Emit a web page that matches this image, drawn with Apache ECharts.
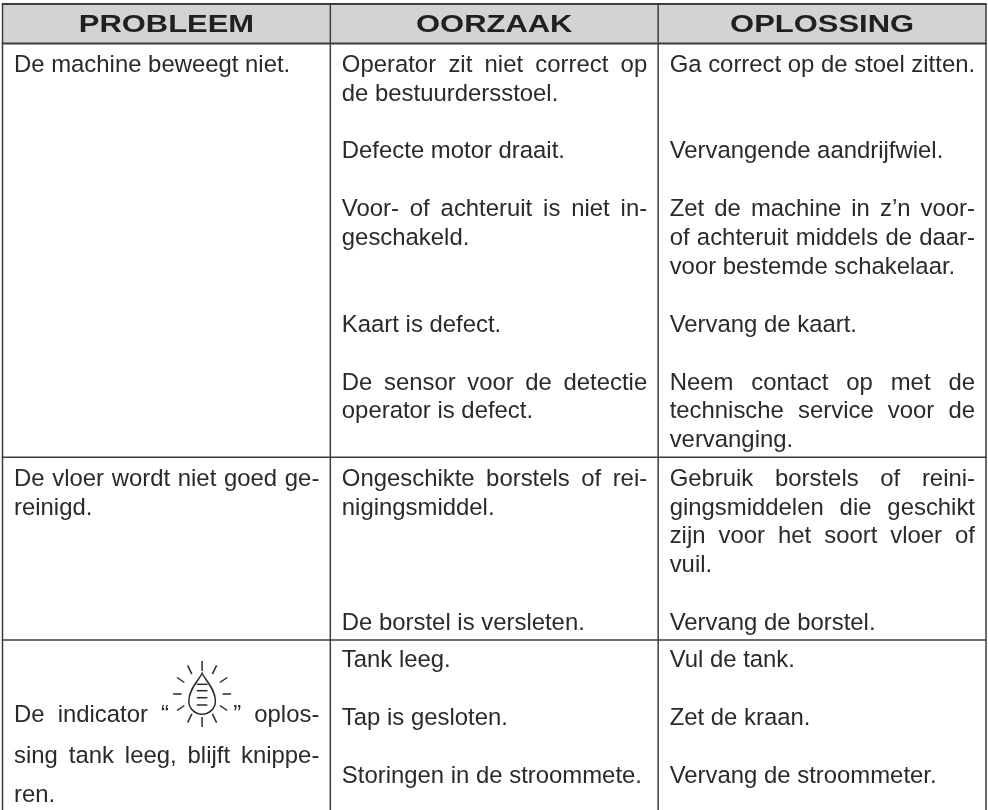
<!DOCTYPE html>
<html>
<head>
<meta charset="utf-8">
<script src="https://cdn.jsdelivr.net/npm/echarts@6/dist/echarts.min.js"></script>
<style>
  html, body { margin: 0; padding: 0; background: #fff; }
  #main { width: 988px; height: 810px; }
</style>
</head>
<body>
<div id="main"></div>
<script>
var headers = ['PROBLEEM', 'OORZAAK', 'OPLOSSING'];

// '' is an empty line in the cell, {icon} is the blinking drop symbol
var problems = [
  ['De machine beweegt niet.'],
  ['De vloer wordt niet goed ge-', 'reinigd.'],
  ['De indicator “ {icon} ” oplos-', 'sing tank leeg, blijft knippe-', 'ren.']
];
var causes = [
  ['Operator zit niet correct op', 'de bestuurdersstoel.', '', 'Defecte motor draait.', '',
   'Voor- of achteruit is niet in-', 'geschakeld.', '', '', 'Kaart is defect.', '',
   'De sensor voor de detectie', 'operator is defect.'],
  ['Ongeschikte borstels of rei-', 'nigingsmiddel.', '', '', '', 'De borstel is versleten.'],
  ['Tank leeg.', '', 'Tap is gesloten.', '', 'Storingen in de stroommete.']
];
var solutions = [
  ['Ga correct op de stoel zitten.', '', '', 'Vervangende aandrijfwiel.', '',
   'Zet de machine in z’n voor-', 'of achteruit middels de daar-', 'voor bestemde schakelaar.', '', 'Vervang de kaart.', '',
   'Neem contact op met de', 'technische service voor de', 'vervanging.'],
  ['Gebruik borstels of reini-', 'gingsmiddelen die geschikt', 'zijn voor het soort vloer of', 'vuil.', '', 'Vervang de borstel.'],
  ['Vul de tank.', '', 'Zet de kraan.', '', 'Vervang de stroommeter.']
];
var columns = [problems, causes, solutions];

// layout of the sheet
var lineColor = '#3d3d3f';
var textColor = '#2b2a2b';
var bodyFont = 23.9;
var rowLines = [4, 43.5, 457.3, 640, 810];
var rowBase = [71.7, 485.7, 667.3];
var pitch = 28.9;
var lastProblemBase = [721.7, 762.7, 801.7];
var padLeft = 11.5, padRight = 11;
var iconWidth = 38;

var ctx = document.createElement('canvas').getContext('2d');
var fontStr = bodyFont + 'px "Liberation Sans"';
ctx.font = fontStr;

// word positions for one line, justified unless it ends a paragraph
function layoutLine(line, width, justify) {
  var words = line.split(' ');
  var w = words.map(function (t) { return t === '{icon}' ? iconWidth : ctx.measureText(t).width; });
  var sum = w.reduce(function (a, b) { return a + b; }, 0);
  var gap = ctx.measureText(' ').width;
  if (justify && words.length > 1) gap = (width - sum) / (words.length - 1);
  var x = 0, out = [];
  words.forEach(function (t, i) { out.push({ text: t, x: x, w: w[i] }); x += w[i] + gap; });
  return out;
}

var cells = [];
columns.forEach(function (rows, c) {
  rows.forEach(function (lines, r) {
    lines.forEach(function (line, i) {
      if (!line) return;
      var justify = i < lines.length - 1 && lines[i + 1] !== '';
      var base = (c === 0 && r === 2) ? lastProblemBase[i] : rowBase[r] + i * pitch;
      cells.push({ value: [c, base], line: line, justify: justify });
    });
  });
});

function dropIcon(cx, cy) {
  var kids = [];
  var stroke = { stroke: textColor, lineWidth: 1.5 };
  for (var a = 0; a < 12; a++) {
    var t = a * Math.PI / 6;
    var sx = Math.sin(t), sy = -Math.cos(t);
    kids.push({ type: 'line', shape: {
      x1: cx + sx * 20.5, y1: cy + sy * 23,
      x2: cx + sx * 29, y2: cy + sy * 33
    }, style: stroke });
  }
  kids.push({ type: 'path', x: cx, y: cy, shape: {
    pathData: 'M0 -20.7 C3 -14 13.3 -5 13.3 7 A13.3 13.3 0 0 1 -13.3 7 C-13.3 -5 -3 -14 0 -20.7 Z'
  }, style: { fill: 'none', stroke: textColor, lineWidth: 1.5 } });
  [-9.7, -3.3, 3.7, 11].forEach(function (d) {
    kids.push({ type: 'line', shape: { x1: cx - 5.3, y1: cy + d, x2: cx + 5.3, y2: cy + d }, style: stroke });
  });
  return { type: 'group', children: kids };
}

function renderFrame(params, api) {
  var cs = params.coordSys;
  var band = api.size([1, 0])[0];
  var kids = [{ type: 'rect', shape: { x: cs.x, y: rowLines[0], width: cs.width, height: rowLines[1] - rowLines[0] },
    style: { fill: '#d1d3d4' } }];
  rowLines.slice(0, 4).forEach(function (y, i) {
    kids.push({ type: 'line', shape: { x1: cs.x - 0.7, y1: y, x2: cs.x + cs.width + 0.7, y2: y },
      style: { stroke: lineColor, lineWidth: i < 2 ? 1.9 : 1.5 } });
  });
  [0, 1, 2, 3].forEach(function (i) {
    var x = cs.x + i * band;
    kids.push({ type: 'line', shape: { x1: x, y1: rowLines[0], x2: x, y2: 810 },
      style: { stroke: lineColor, lineWidth: 1.5 } });
  });
  headers.forEach(function (h, i) {
    kids.push({ type: 'text', x: cs.x + (i + 0.5) * band, y: 25.6, scaleX: 1.345,
      style: { text: h, fill: '#231f20', align: 'center', verticalAlign: 'middle',
        font: 'bold 23px "Liberation Sans"' } });
  });
  return { type: 'group', children: kids };
}

function renderCell(params, api) {
  var item = cells[params.dataIndex];
  var band = api.size([1, 0])[0];
  var pos = api.coord([api.value(0), api.value(1)]);
  var left = pos[0] - band / 2 + padLeft;
  var width = band - padLeft - padRight;
  var kids = [];
  layoutLine(item.line, width, item.justify).forEach(function (w) {
    if (w.text === '{icon}') {
      kids.push(dropIcon(left + w.x + w.w / 2 + 1, pos[1] - 27.7));
    } else {
      kids.push({ type: 'text', x: left + w.x, y: pos[1] - 6.6,
        style: { text: w.text, fill: textColor, align: 'left', verticalAlign: 'middle', font: fontStr } });
    }
  });
  return { type: 'group', children: kids };
}

var chart = echarts.init(document.getElementById('main'), null, { renderer: 'canvas' });
chart.setOption({
  animation: false,
  backgroundColor: '#fff',
  grid: { left: 2.5, right: 2, top: 0, bottom: 0 },
  xAxis: { type: 'category', data: headers, show: false },
  yAxis: { type: 'value', min: 0, max: 810, inverse: true, show: false },
  series: [
    { type: 'custom', name: 'frame', silent: true, clip: false, renderItem: renderFrame, data: [[0, 0]] },
    { type: 'custom', name: 'cells', silent: true, clip: false, renderItem: renderCell,
      encode: { x: 0, y: 1 }, data: cells }
  ]
});
</script>
</body>
</html>
